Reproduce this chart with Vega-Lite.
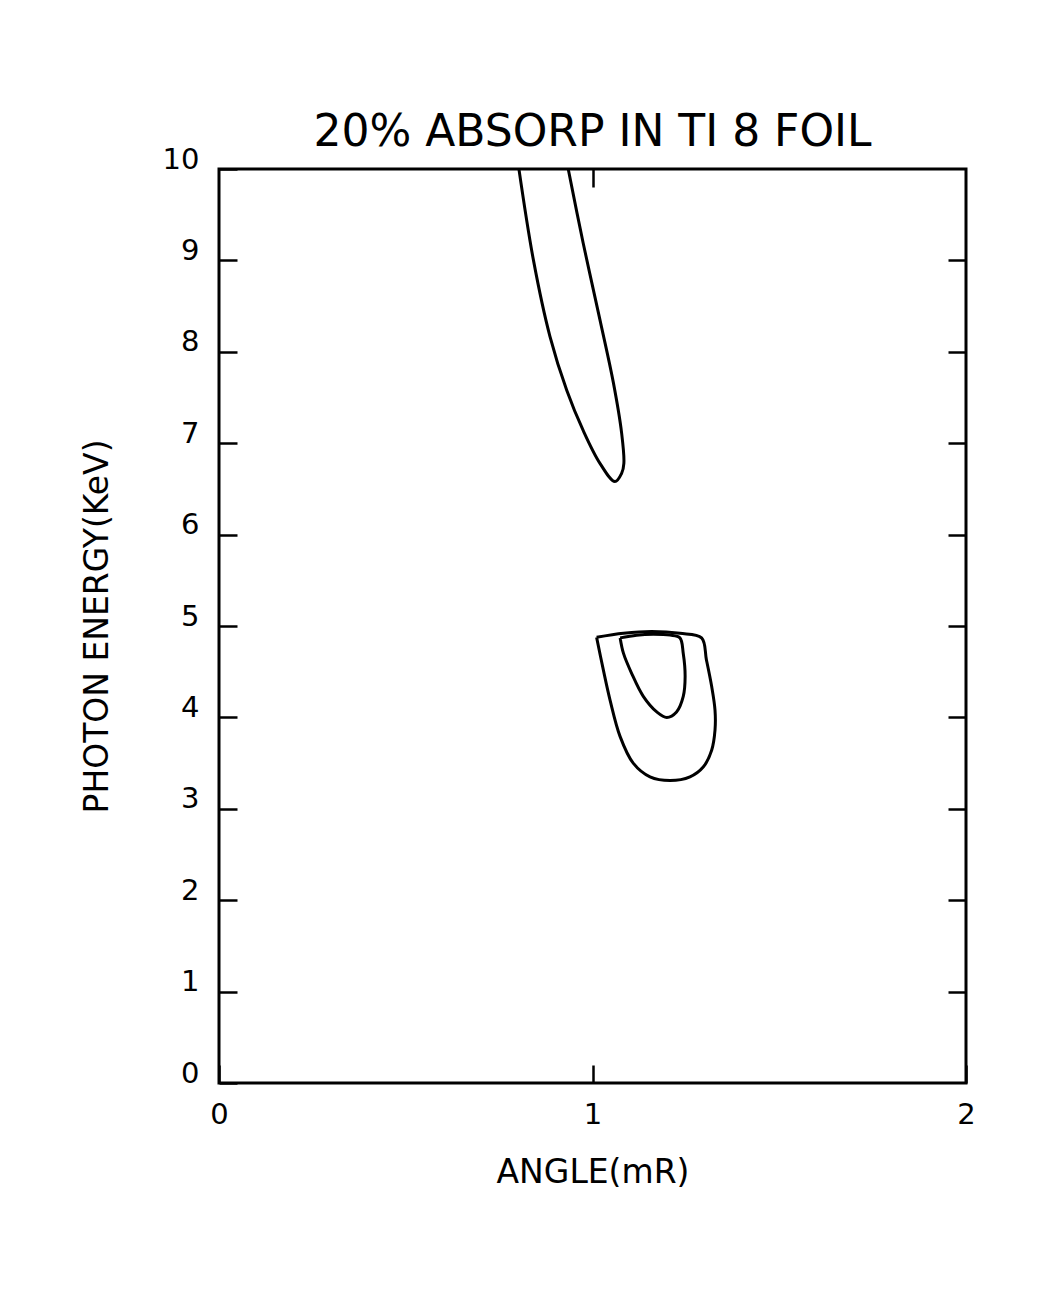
{
  "$schema": "https://vega.github.io/schema/vega-lite/v6.json",
  "width": 747,
  "height": 914,
  "autosize": "none",
  "padding": {"left": 219, "top": 169, "right": 80, "bottom": 211},
  "background": "white",
  "title": {
    "text": "20% ABSORP IN TI 8 FOIL",
    "font": "DejaVu Sans",
    "fontSize": 44,
    "fontWeight": "normal",
    "color": "black",
    "anchor": "middle",
    "baseline": "alphabetic",
    "offset": -45
  },
  "data": {
    "values": [
      {"c": "A", "i": 0, "x": 0.803, "y": 10.0},
      {"c": "A", "i": 1, "x": 0.842, "y": 9.0},
      {"c": "A", "i": 2, "x": 0.886, "y": 8.17},
      {"c": "A", "i": 3, "x": 0.931, "y": 7.58},
      {"c": "A", "i": 4, "x": 0.975, "y": 7.14},
      {"c": "A", "i": 5, "x": 1.02, "y": 6.78},
      {"c": "A", "i": 6, "x": 1.06, "y": 6.58},
      {"c": "A", "i": 7, "x": 1.078, "y": 6.67},
      {"c": "A", "i": 8, "x": 1.084, "y": 6.78},
      {"c": "A", "i": 9, "x": 1.078, "y": 7.11},
      {"c": "A", "i": 10, "x": 1.056, "y": 7.66},
      {"c": "A", "i": 11, "x": 1.02, "y": 8.35},
      {"c": "A", "i": 12, "x": 0.975, "y": 9.19},
      {"c": "A", "i": 13, "x": 0.935, "y": 10.0},

      {"c": "B", "i": 0, "x": 1.011, "y": 4.876},
      {"c": "B", "i": 1, "x": 1.083, "y": 4.92},
      {"c": "B", "i": 2, "x": 1.158, "y": 4.94},
      {"c": "B", "i": 3, "x": 1.234, "y": 4.92},
      {"c": "B", "i": 4, "x": 1.292, "y": 4.87},
      {"c": "B", "i": 5, "x": 1.305, "y": 4.63},
      {"c": "B", "i": 6, "x": 1.319, "y": 4.34},
      {"c": "B", "i": 7, "x": 1.328, "y": 4.08},
      {"c": "B", "i": 8, "x": 1.328, "y": 3.86},
      {"c": "B", "i": 9, "x": 1.319, "y": 3.64},
      {"c": "B", "i": 10, "x": 1.297, "y": 3.46},
      {"c": "B", "i": 11, "x": 1.261, "y": 3.35},
      {"c": "B", "i": 12, "x": 1.208, "y": 3.31},
      {"c": "B", "i": 13, "x": 1.154, "y": 3.35},
      {"c": "B", "i": 14, "x": 1.109, "y": 3.5},
      {"c": "B", "i": 15, "x": 1.074, "y": 3.79},
      {"c": "B", "i": 16, "x": 1.047, "y": 4.19},
      {"c": "B", "i": 17, "x": 1.029, "y": 4.52},
      {"c": "B", "i": 18, "x": 1.011, "y": 4.876},

      {"c": "C", "i": 0, "x": 1.074, "y": 4.87},
      {"c": "C", "i": 1, "x": 1.118, "y": 4.9},
      {"c": "C", "i": 2, "x": 1.163, "y": 4.91},
      {"c": "C", "i": 3, "x": 1.208, "y": 4.9},
      {"c": "C", "i": 4, "x": 1.234, "y": 4.87},
      {"c": "C", "i": 5, "x": 1.243, "y": 4.7},
      {"c": "C", "i": 6, "x": 1.248, "y": 4.45},
      {"c": "C", "i": 7, "x": 1.243, "y": 4.23},
      {"c": "C", "i": 8, "x": 1.225, "y": 4.06},
      {"c": "C", "i": 9, "x": 1.199, "y": 4.0},
      {"c": "C", "i": 10, "x": 1.172, "y": 4.06},
      {"c": "C", "i": 11, "x": 1.136, "y": 4.23},
      {"c": "C", "i": 12, "x": 1.105, "y": 4.48},
      {"c": "C", "i": 13, "x": 1.083, "y": 4.7},
      {"c": "C", "i": 14, "x": 1.074, "y": 4.87}
    ]
  },
  "layer": [
    {
      "mark": {"type": "line", "color": "black", "strokeWidth": 3, "interpolate": "catmull-rom", "clip": true},
      "encoding": {
        "x": {
          "field": "x", "type": "quantitative",
          "scale": {"domain": [0, 2], "nice": false, "zero": false},
          "axis": {"orient": "bottom", "values": [0, 1, 2], "labelExpr": "toString(datum.value)", "labelFlush": false, "labelOverlap": false, "title": "ANGLE(mR)", "labelPadding": 35, "titlePadding": 27}
        },
        "y": {
          "field": "y", "type": "quantitative",
          "scale": {"domain": [0, 10], "nice": false, "zero": false},
          "axis": {"orient": "left", "values": [0, 1, 2, 3, 4, 5, 6, 7, 8, 9, 10], "labelExpr": "toString(datum.value)", "labelFlush": false, "labelOverlap": false, "title": "PHOTON ENERGY(KeV)", "labelPadding": 38, "labelOffset": -10, "titlePadding": 48}
        },
        "detail": {"field": "c"},
        "order": {"field": "i", "type": "quantitative"}
      }
    },
    {
      "mark": {"type": "point", "opacity": 0},
      "encoding": {
        "x": {
          "field": "x", "type": "quantitative",
          "axis": {"orient": "top", "values": [1], "labels": false, "title": null}
        },
        "y": {
          "field": "y", "type": "quantitative",
          "axis": {"orient": "right", "values": [1, 2, 3, 4, 5, 6, 7, 8, 9], "labels": false, "title": null}
        }
      }
    }
  ],
  "resolve": {"axis": {"x": "independent", "y": "independent"}},
  "config": {
    "view": {"stroke": "black", "strokeWidth": 3},
    "axis": {
      "domain": false,
      "grid": false,
      "ticks": true,
      "tickColor": "black",
      "tickWidth": 2.5,
      "tickSize": -18,
      "labelFont": "DejaVu Sans",
      "labelFontSize": 29,
      "labelColor": "black",
      "titleFont": "DejaVu Sans",
      "titleFontSize": 33,
      "titleFontWeight": "normal",
      "titleColor": "black"
    }
  }
}
